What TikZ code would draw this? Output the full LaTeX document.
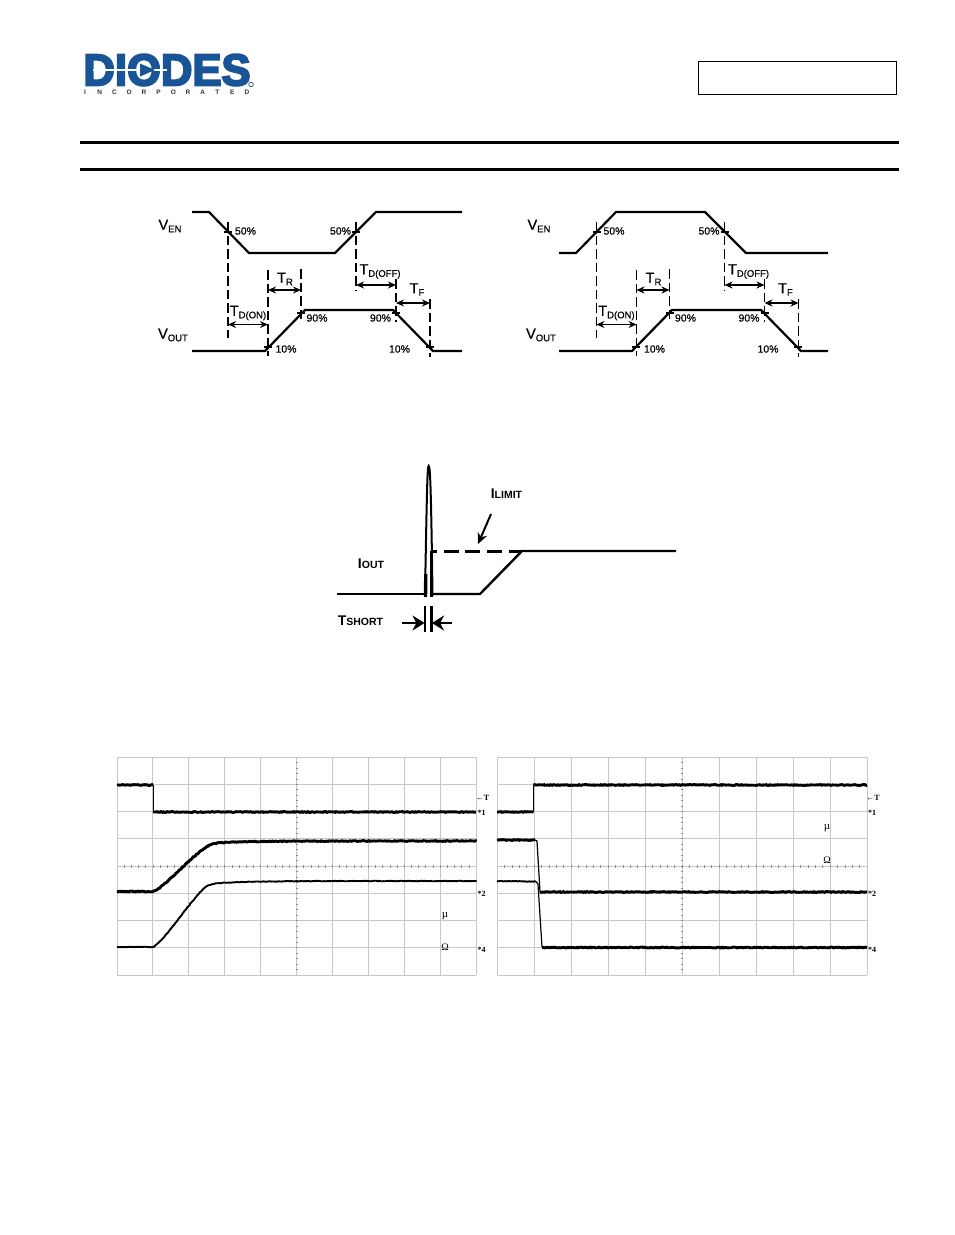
\documentclass[tikz,border=0pt]{standalone}
\usepackage{fontspec}
\setmainfont{Liberation Sans}
\newfontfamily\scopefont{Liberation Serif}
\newfontfamily\logofont[FakeBold=4.5]{Liberation Sans Bold}
\newfontfamily\midfont[FakeBold=0.6]{Liberation Sans}
\usetikzlibrary{arrows.meta,decorations.pathmorphing}
\definecolor{logoblue}{RGB}{24,84,150}
\definecolor{gridgrey}{RGB}{200,200,200}
\newcommand{\sizedtxt}[2]{{\fontsize{#1}{#1}\selectfont #2}}
\newcommand{\sublab}[2]{\sizedtxt{14.5}{\midfont #1}\raisebox{-2.5pt}{\sizedtxt{9.5}{\midfont #2}}}
\newcommand{\caplab}[2]{\textbf{\sizedtxt{14}{#1}\sizedtxt{10.5}{#2}}}
\tikzset{
  wave/.style={line width=2.2pt},
  guide/.style={line width=1.1pt,dash pattern=on 9.5pt off 4pt},
  span/.style={line width=1.5pt,{Stealth[length=8pt,width=7pt]}-{Stealth[length=8pt,width=7pt]}},
  pct/.style={inner sep=0pt,font=\midfont\fontsize{10.5}{10.5}\selectfont},
  lab/.style={inner sep=0pt},
  crosstick/.style={line width=1.2pt},
  gridline/.style={gridgrey,line width=1pt},
  gridtick/.style={black!45,line width=0.6pt},
  trace/.style={line width=2.9pt,decorate,decoration={random steps,segment length=1.3pt,amplitude=0.4pt}},
  tracethin/.style={line width=1.9pt,decorate,decoration={random steps,segment length=1.3pt,amplitude=0.3pt}},
  scopetxt/.style={inner sep=0pt,font=\scopefont\bfseries\fontsize{8}{8}\selectfont},
}
\pgfmathsetseed{7}
\begin{document}
\begin{tikzpicture}[x=1pt,y=-1pt]
\useasboundingbox (0,0) rectangle (954,1235);
% logo and page head
\node[inner sep=0pt,text=logoblue,font=\logofont\fontsize{44.5}{44.5}\selectfont,xscale=0.98] (logotext) at (167,70) {DIODES};
\draw[white,line width=1.3pt] (93,70) -- (167,70);
\fill[logoblue] (140,63.5) -- (155,70) -- (140,76.5) -- cycle;
\foreach \ch [count=\i from 0] in {I,N,C,O,R,P,O,R,A,T,E,D}
  \node[inner sep=0pt,font=\bfseries\fontsize{6.5}{6.5}\selectfont,text=black!80] (logo\i) at (85+14.72*\i,92.5) {\ch};
\node[draw=logoblue,circle,line width=0.7pt,inner sep=0pt,minimum size=4.5pt] (logoreg) at (251,84.5) {};
\node[draw,line width=1pt,minimum width=198pt,minimum height=33pt,inner sep=0pt] (partbox) at (797,77.5) {};
\draw[line width=3pt] (80,142) -- (899,142);
\draw[line width=3pt] (80,169.5) -- (899,169.5);
% timing, enable active low
\draw[wave] (192,212) -- (209,212) -- (249,253) -- (335,253) -- (376,212) -- (462,212);
\draw[wave] (192,351) -- (265,351) -- (305,310) -- (393,310) -- (433,351) -- (462,351);
% timing, enable active high
\draw[wave] (559,253) -- (576,253) -- (616,212) -- (705,212) -- (746,253) -- (828,253);
\draw[wave] (559,351) -- (632,351) -- (672,310) -- (761,310) -- (801,351) -- (828,351);
\foreach \tag/\dx in {a/0,b/368.5} {
  \begin{scope}[xshift=\dx pt]
    \coordinate (\tag on) at (228,324.5);
    \coordinate (\tag r1) at (268,290);
    \coordinate (\tag r2) at (301,290);
    \coordinate (\tag on2) at (268,324.5);
    \coordinate (\tag off) at (356,285);
    \coordinate (\tag off2) at (396,285);
    \coordinate (\tag f1) at (396,303);
    \coordinate (\tag f2) at (430,303);
    \draw[guide] (228,222) -- (228,338);
    \draw[guide] (268,270) -- (268,356);
    \draw[guide] (301,269) -- (301,322);
    \draw[guide] (356,222) -- (356,291);
    \draw[guide] (396,279) -- (396,322);
    \draw[guide] (430,299) -- (430,357);
    \foreach \tx/\ty in {228/232,356/232,301/313,396/313,267.5/347,429.5/347}
      \draw[crosstick] (\tx-4,\ty) -- (\tx+4,\ty);
    \draw[span] (\tag on) -- (\tag on2);
    \draw[span] (\tag r1) -- (\tag r2);
    \draw[span] (\tag off) -- (\tag off2);
    \draw[span] (\tag f1) -- (\tag f2);
    \node[lab] (\tag tr) at (285,279) {\sublab{T}{R}};
    \node[lab] (\tag ton) at (248,313) {\sublab{T}{D(ON)}};
    \node[lab] (\tag toff) at (380,271.5) {\sublab{T}{D(OFF)}};
    \node[lab] (\tag tf) at (417,289.5) {\sublab{T}{F}};
    \node[pct] (\tag p1) at (245.5,231) {50\%};
    \node[pct] (\tag p2) at (340.5,231) {50\%};
    \node[pct] (\tag p3) at (317,318) {90\%};
    \node[pct] (\tag p4) at (380.5,318) {90\%};
    \node[pct] (\tag p5) at (286,349) {10\%};
    \node[pct] (\tag p6) at (399.5,349) {10\%};
  \end{scope}
}
\node[lab] (venl) at (170,226) {\sublab{V}{EN}};
\node[lab] (voutl) at (173,335) {\sublab{V}{OUT}};
\node[lab] (venr) at (539,226) {\sublab{V}{EN}};
\node[lab] (voutr) at (541,335) {\sublab{V}{OUT}};
% short circuit response
\draw[line width=2.4pt] (337,594) -- (426,594);
\draw[line width=2pt] (425,596) .. controls (427,480) and (427.5,466) .. (428.7,466) .. controls (430,466) and (431,480) .. (432.5,596);
\draw[line width=3.4pt] (425.8,574) -- (425.5,597);
\draw[line width=3.4pt] (431.7,551) -- (431.7,597);
\draw[line width=3pt,dash pattern=on 15pt off 6.7pt,dash phase=10pt] (432,551) -- (522,551);
\draw[line width=2.4pt] (431,594) -- (480,594) -- (522,551) -- (676,551);
\coordinate (limtail) at (491,514);
\coordinate (limhead) at (478,544);
\draw[line width=2pt,-{Stealth[length=11pt,width=10pt]}] (limtail) -- (limhead);
\draw[line width=2.2pt] (425,606) -- (425,632);
\draw[line width=2.2pt] (431.5,606) -- (431.5,632);
\coordinate (shortl) at (402,623);
\coordinate (shortr) at (452,623);
\coordinate (shortla) at (424.5,623);
\coordinate (shortra) at (432,623);
\draw[line width=2.6pt,-{Stealth[length=12pt,width=15pt]}] (shortl) -- (shortla);
\draw[line width=2.6pt,-{Stealth[length=12pt,width=15pt]}] (shortr) -- (shortra);
\node[lab] (ioutlab) at (371,564) {\caplab{I}{OUT}};
\node[lab] (ilimlab) at (506.5,494) {\caplab{I}{LIMIT}};
\node[lab] (tshortlab) at (360.5,621) {\caplab{T}{SHORT}};
% scope captures, grid first
\foreach \k in {0,...,10} {
  \draw[gridline] (117+35.9*\k,757) -- (117+35.9*\k,975);
  \draw[gridline] (497+37*\k,757) -- (497+37*\k,975);
}
\foreach \k in {0,...,8} {
  \draw[gridline] (117,757+27.25*\k) -- (476,757+27.25*\k);
  \draw[gridline] (497,757+27.25*\k) -- (867,757+27.25*\k);
}
\foreach \k in {1,...,49} {
  \draw[gridtick] (117+7.18*\k,865) -- (117+7.18*\k,867.5);
  \draw[gridtick] (497+7.4*\k,865) -- (497+7.4*\k,867.5);
}
\foreach \k in {1,...,39} {
  \draw[gridtick] (295.5,757+5.45*\k) -- (298,757+5.45*\k);
  \draw[gridtick] (680.5,757+5.45*\k) -- (683,757+5.45*\k);
}
% left capture
\draw[trace] (117,785) -- (153,785);
\draw[line width=1pt] (153,785) -- (153,812);
\draw[trace] (153,812) -- (476,812);
\draw[trace] (117,891.5) -- (153,891.5) .. controls (166,887) and (192,854) .. (210,845) .. controls (218,841) and (240,841) .. (476,841);
\draw[tracethin] (117,947) -- (153,947) .. controls (166,940) and (192,897) .. (207,886) .. controls (217,881) and (240,881) .. (476,881);
% right capture
\draw[trace] (497,812) -- (533.5,812);
\draw[line width=1.2pt] (533.5,812) -- (533.5,785);
\draw[trace] (533.5,785) -- (867,785);
\draw[trace] (497,840) -- (535,840);
\draw[line width=1.2pt] (535,840) -- (537,841) -- (540,892);
\draw[trace] (540,892) -- (867,892);
\draw[tracethin] (497,881) -- (536,881.5);
\draw[line width=1.2pt] (536,881.5) -- (538,884) -- (542,947);
\draw[trace] (542,947.5) -- (867,947.5);
% scope markers
\foreach \tag/\sx/\mux/\muy/\omy in {l/0/445/916/947,r/390.5/827/828/860} {
  \node[scopetxt] (\tag t) at (482.5+\sx,797.5) {←T};
  \node[scopetxt] (\tag c) at (481.5+\sx,813) {*1};
  \node[scopetxt] (\tag d) at (481.5+\sx,894) {*2};
  \node[scopetxt] (\tag e) at (481.5+\sx,949.5) {*4};
  \node[scopetxt,font=\scopefont\fontsize{11}{11}\selectfont] (\tag mu) at (\mux,\muy) {µ};
  \node[scopetxt,font=\scopefont\fontsize{10}{10}\selectfont] (\tag om) at (\mux,\omy) {Ω};
}
\end{tikzpicture}
\end{document}
